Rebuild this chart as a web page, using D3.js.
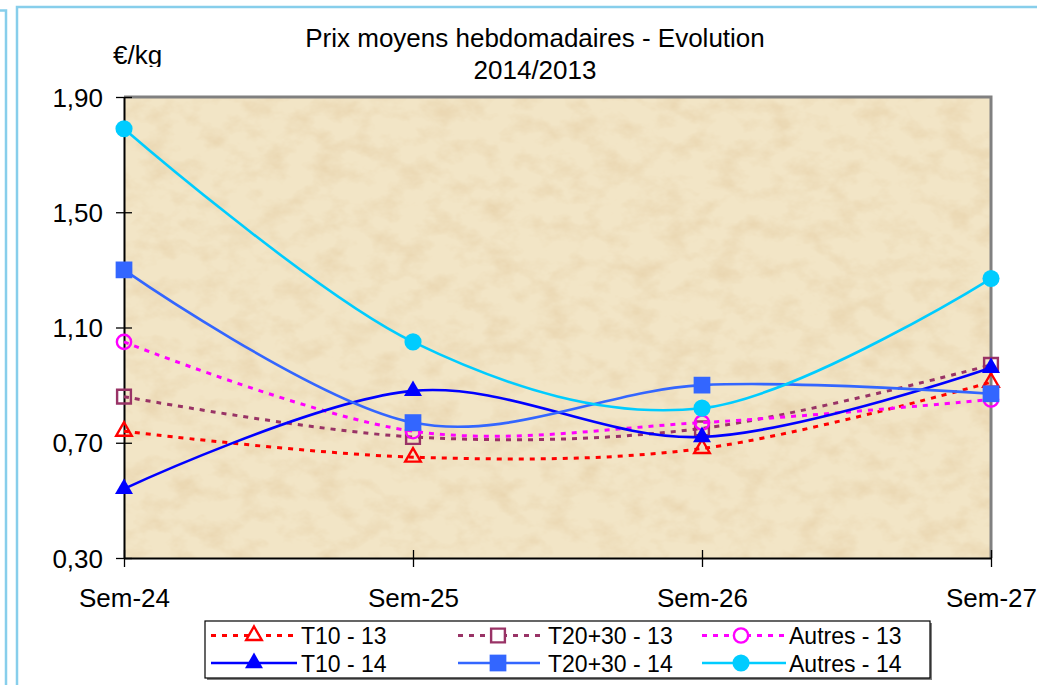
<!DOCTYPE html>
<html><head><meta charset="utf-8">
<script src="https://cdn.jsdelivr.net/npm/d3@7/dist/d3.min.js"></script>
<style>
html,body{margin:0;padding:0;background:#fff;}
svg text{font-family:"Liberation Sans",Arial,sans-serif;fill:#000;}
</style></head>
<body>
<svg id="chart" width="1037" height="685"></svg>
<script>
const categories = ["Sem-24","Sem-25","Sem-26","Sem-27"];
const yTickValues = [0.30,0.70,1.10,1.50,1.90];
const yTickLabels = ["0,30","0,70","1,10","1,50","1,90"];
const seriesNames = ["T10 - 13","T20+30 - 13","Autres - 13","T10 - 14","T20+30 - 14","Autres - 14"];
const t10_13    = [0.74,0.65,0.68,0.91];
const t2030_13  = [0.86,0.72,0.75,0.97];
const autres_13 = [1.05,0.74,0.77,0.85];
const t10_14    = [0.54,0.88,0.72,0.96];
const t2030_14  = [1.30,0.77,0.90,0.87];
const autres_14 = [1.79,1.05,0.82,1.27];
const titleLines = ["Prix moyens hebdomadaires - Evolution","2014/2013"];
const unitLabel = "€/kg";

const styles = [
  {color:"#FF0000", dash:"5,6", sym:d3.symbolTriangle, size:105, filled:false},
  {color:"#993366", dash:"5,6", sym:d3.symbolSquare, size:190, filled:false},
  {color:"#FF00FF", dash:"5,6", sym:d3.symbolCircle, size:160, filled:false},
  {color:"#0000FF", dash:null, sym:d3.symbolTriangle, size:140, filled:true},
  {color:"#3366FF", dash:null, sym:d3.symbolSquare, size:280, filled:true},
  {color:"#00CCFF", dash:null, sym:d3.symbolCircle, size:230, filled:true}
];
const seriesData = [t10_13,t2030_13,autres_13,t10_14,t2030_14,autres_14];

const svg = d3.select("#chart");
const FS = "26px";
const LFS = "23px";
const L=124, R=991, T=97, B=558;

// outer frames
svg.append("path").attr("d","M0,10.5H6V690").attr("fill","none").attr("stroke","#87CEEB").attr("stroke-width",2.5);
svg.append("rect").attr("x",17).attr("y",7).attr("width",1040).attr("height",700).attr("fill","none").attr("stroke","#87CEEB").attr("stroke-width",2.5);

const defs = svg.append("defs");
const f = defs.append("filter").attr("id","tex").attr("x",0).attr("y",0).attr("width","100%").attr("height","100%");
f.append("feTurbulence").attr("type","fractalNoise").attr("baseFrequency","0.035 0.05").attr("numOctaves",4).attr("seed",7).attr("result","n");
f.append("feColorMatrix").attr("in","n").attr("type","matrix")
  .attr("values","0 0 0 0 0.80  0 0 0 0 0.64  0 0 0 0 0.40  1.6 0 0 0 -0.68");
defs.append("clipPath").attr("id","unitclip").append("rect").attr("x",0).attr("y",0).attr("width",300).attr("height",67);

const x = d3.scalePoint().domain(categories).range([L,R]);
const y = d3.scaleLinear().domain([0.30,1.90]).range([B,T]);

// plot background
svg.append("rect").attr("x",L).attr("y",T).attr("width",R-L).attr("height",B-T).attr("fill","#F2E5C6");
svg.append("rect").attr("x",L).attr("y",T).attr("width",R-L).attr("height",B-T).attr("filter","url(#tex)");

// top & right border (gray)
svg.append("path").attr("d",`M${L},${T}H${R}V${B}`).attr("fill","none").attr("stroke","#808080").attr("stroke-width",3);

// title
svg.append("text").attr("x",535).attr("y",47).attr("text-anchor","middle").style("font-size",FS).text(titleLines[0]);
svg.append("text").attr("x",535).attr("y",79).attr("text-anchor","middle").style("font-size",FS).text(titleLines[1]);
svg.append("text").attr("x",113).attr("y",64).attr("clip-path","url(#unitclip)").style("font-size",FS).text(unitLabel);

// axes
const yAxis = d3.axisLeft(y).tickValues(yTickValues).tickFormat((d,i)=>yTickLabels[i]).tickSizeInner(8).tickSizeOuter(0).tickPadding(13);
const gy = svg.append("g").attr("transform",`translate(${L},0)`).call(yAxis);
gy.select(".domain").attr("stroke","#000").attr("stroke-width",2);
gy.selectAll(".tick line").attr("x1",8).attr("x2",-8).attr("stroke","#000").attr("stroke-width",1.3);
gy.selectAll(".tick text").style("font-size",FS).style("font-family","Liberation Sans, Arial, sans-serif").attr("dy","0.35em");

const xAxis = d3.axisBottom(x).tickSizeInner(8).tickSizeOuter(0).tickPadding(23);
const gx = svg.append("g").attr("transform",`translate(0,${B})`).call(xAxis);
gx.select(".domain").attr("stroke","#000").attr("stroke-width",2.2);
gx.selectAll(".tick line").attr("y1",-8).attr("y2",9).attr("stroke","#000").attr("stroke-width",1.3);
gx.selectAll(".tick text").style("font-size",FS).style("font-family","Liberation Sans, Arial, sans-serif");

// series
const line = d3.line().x((d,i)=>x(categories[i])).y(d=>y(d)).curve(d3.curveCardinal.tension(0));
seriesData.forEach((vals,si)=>{
  const s = styles[si];
  const g = svg.append("g");
  g.append("path").attr("d",line(vals)).attr("fill","none").attr("stroke",s.color)
    .attr("stroke-width",s.dash?3:2.6).attr("stroke-dasharray",s.dash);
  g.selectAll("path.m").data(vals).join("path").attr("class","m")
    .attr("transform",(d,i)=>`translate(${x(categories[i])},${y(d)})`)
    .attr("d",d3.symbol().type(s.sym).size(s.size)())
    .attr("fill",s.filled?s.color:"none").attr("stroke",s.filled?"none":s.color).attr("stroke-width",2.4);
});

// legend
const lg = svg.append("g");
lg.append("rect").attr("x",207).attr("y",623).attr("width",725).attr("height",57).attr("fill","#808080");
lg.append("rect").attr("x",205).attr("y",621).attr("width",725).attr("height",57).attr("fill","#fff").attr("stroke","#000").attr("stroke-width",1.2);
const colX = [[211,297,254,301],[458,540,498,548],[702,786,741,789]];
const rowY = [635.5,663];
seriesNames.forEach((name,si)=>{
  const s = styles[si];
  const c = colX[si%3], ry = rowY[Math.floor(si/3)];
  lg.append("line").attr("x1",c[0]).attr("x2",c[1]).attr("y1",ry).attr("y2",ry).attr("stroke",s.color)
    .attr("stroke-width",s.dash?3:2.6).attr("stroke-dasharray",s.dash);
  lg.append("path").attr("transform",`translate(${c[2]},${ry})`).attr("d",d3.symbol().type(s.sym).size(s.size)())
    .attr("fill",s.filled?s.color:"#fff").attr("stroke",s.filled?"none":s.color).attr("stroke-width",2.4);
  lg.append("text").attr("x",c[3]).attr("y",ry+8.5).style("font-size",LFS).attr("textLength",null).text(name);
});
</script>
</body></html>
